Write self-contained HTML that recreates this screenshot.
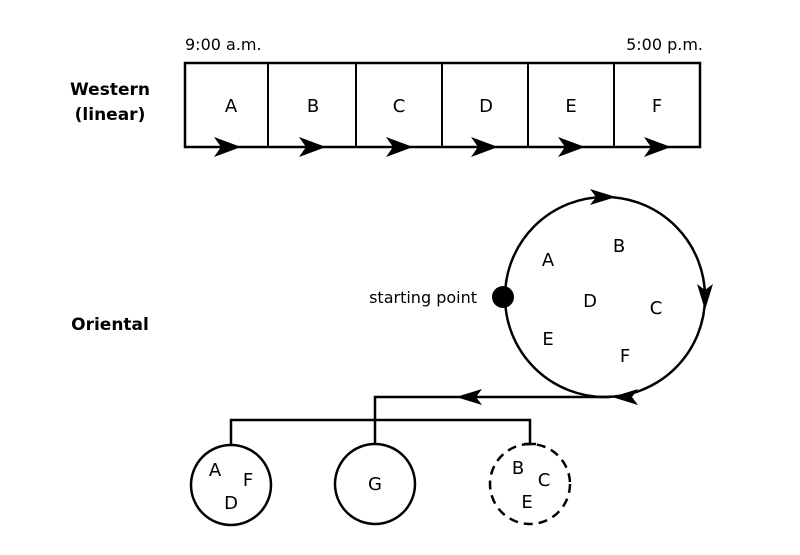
<!DOCTYPE html>
<html><head><style>body{margin:0;background:#fff}svg text{font-family:"DejaVu Sans","Liberation Sans",sans-serif;fill:#000}</style></head><body>
<svg width="800" height="550" viewBox="0 0 800 550" xmlns="http://www.w3.org/2000/svg">
<text x="185" y="50" font-size="16">9:00 a.m.</text>
<text x="703" y="50" font-size="16" text-anchor="end">5:00 p.m.</text>
<text x="110" y="95" font-size="17" font-weight="bold" text-anchor="middle">Western</text>
<text x="110" y="120" font-size="17" font-weight="bold" text-anchor="middle">(linear)</text>
<rect x="185" y="63" width="515" height="84" fill="none" stroke="#000" stroke-width="2.5"/>
<g stroke="#000" stroke-width="2"><line x1="268" y1="63" x2="268" y2="147"/><line x1="356" y1="63" x2="356" y2="147"/><line x1="442" y1="63" x2="442" y2="147"/><line x1="528" y1="63" x2="528" y2="147"/><line x1="614" y1="63" x2="614" y2="147"/></g>
<g font-size="18" text-anchor="middle"><text x="231" y="112">A</text><text x="313" y="112">B</text><text x="399" y="112">C</text><text x="486" y="112">D</text><text x="571" y="112">E</text><text x="657" y="112">F</text></g>
<g fill="#000"><path d="M214,137 L241,147 L214,157 L221,147Z"/><path d="M299,137 L326,147 L299,157 L306,147Z"/><path d="M386,137 L413,147 L386,157 L393,147Z"/><path d="M471,137 L498,147 L471,157 L478,147Z"/><path d="M558,137 L585,147 L558,157 L565,147Z"/><path d="M644,137 L671,147 L644,157 L651,147Z"/></g>
<text x="110" y="330" font-size="17" font-weight="bold" text-anchor="middle">Oriental</text>
<circle cx="605" cy="297" r="100" fill="none" stroke="#000" stroke-width="2.5"/>
<g fill="#000"><path d="M590,189 L616,197 L590,205 L596,197Z"/><path d="M697,284 L705,310 L713,284 L705,290Z"/><path d="M638,389 L612,397 L638,405 L632,397Z"/></g>
<circle cx="503" cy="297" r="11" fill="#000"/>
<text x="477" y="303" font-size="16" text-anchor="end">starting point</text>
<g font-size="18" text-anchor="middle"><text x="548" y="266">A</text><text x="619" y="252">B</text><text x="590" y="307">D</text><text x="656" y="314">C</text><text x="548" y="345">E</text><text x="625" y="362">F</text></g>
<g stroke="#000" stroke-width="2.5" fill="none"><path d="M610,397 H375 V444"/><path d="M231,445 V420 H530 V444"/><line x1="524" y1="444" x2="536" y2="444"/></g>
<path d="M456,397 L482,389 L476,397 L482,405Z" fill="#000"/>
<circle cx="231" cy="485" r="40" fill="none" stroke="#000" stroke-width="2.5"/>
<circle cx="375" cy="484" r="40" fill="none" stroke="#000" stroke-width="2.5"/>
<circle cx="530" cy="484" r="40" fill="none" stroke="#000" stroke-width="2.5" stroke-dasharray="9,6"/>
<g font-size="18" text-anchor="middle"><text x="215" y="476">A</text><text x="248" y="486">F</text><text x="231" y="509">D</text><text x="375" y="490">G</text><text x="518" y="474">B</text><text x="544" y="486">C</text><text x="527" y="508">E</text></g>
</svg>
</body></html>
